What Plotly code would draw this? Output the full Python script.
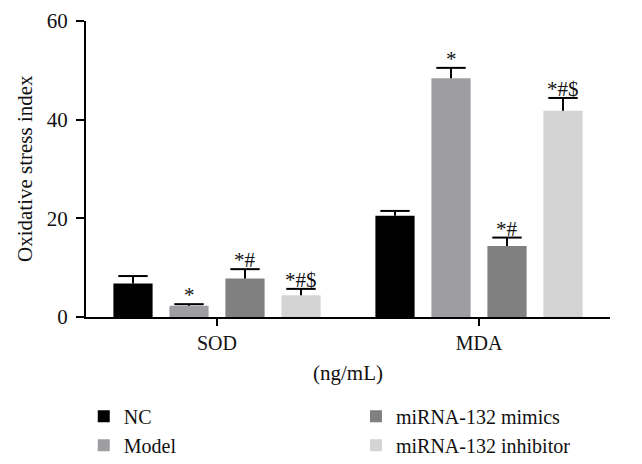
import plotly.graph_objects as go

categories = ["SOD", "MDA"]
series_names = ["NC", "Model", "miRNA-132 mimics", "miRNA-132 inhibitor"]
nc_vals = [6.8, 20.5]
nc_err = [1.5, 1.0]
model_vals = [2.3, 48.4]
model_err = [0.3, 2.1]
mimics_vals = [7.8, 14.4]
mimics_err = [1.9, 1.7]
inhib_vals = [4.4, 41.8]
inhib_err = [1.3, 2.6]
nc_marks = ["", ""]
model_marks = ["*", "*"]
mimics_marks = ["*#", "*#"]
inhib_marks = ["*#$", "*#$"]
y_title = "Oxidative stress index"
x_title = "(ng/mL)"

colors = ["#000000", "#9e9ea2", "#808080", "#d4d4d4"]
legend_ids = ["legend", "legend", "legend2", "legend2"]
vals = [nc_vals, model_vals, mimics_vals, inhib_vals]
errs = [nc_err, model_err, mimics_err, inhib_err]
marks = [nc_marks, model_marks, mimics_marks, inhib_marks]

FONT = "Liberation Serif"
GAP = 0.145
fig = go.Figure()
for i, name in enumerate(series_names):
    fig.add_trace(go.Bar(
        x=categories, y=vals[i], name=name, offsetgroup=str(i),
        marker=dict(color=colors[i], line=dict(width=0)),
        legend=legend_ids[i],
        error_y=dict(type="data", array=errs[i], arrayminus=[0] * len(errs[i]),
                     symmetric=False, color="#000000", thickness=2, width=0),
    ))
# error bar caps (top only)
for i, name in enumerate(series_names):
    fig.add_trace(go.Scatter(
        x=categories, y=[v + e for v, e in zip(vals[i], errs[i])],
        mode="markers", orientation="v", showlegend=False, hoverinfo="skip",
        offsetgroup=str(i),
        marker=dict(symbol="line-ew", size=21, color="#000",
                    line=dict(width=2, color="#000")),
    ))

slot = 56
for i in range(len(series_names)):
    for j, cat in enumerate(categories):
        if marks[i][j]:
            fig.add_annotation(x=cat, y=vals[i][j] + errs[i][j], xref="x", yref="y",
                               text=marks[i][j], showarrow=False, yanchor="bottom",
                               xshift=(i - 1.5) * slot, yshift=-5,
                               font=dict(family=FONT, size=21, color="#111"))

# y-axis title
fig.add_annotation(text=y_title, xref="paper", yref="paper", x=-0.1164, y=0.5,
                   xanchor="center", yanchor="middle", textangle=-90, showarrow=False,
                   font=dict(family=FONT, size=21, color="#111"))

leg_common = dict(orientation="v", xref="container", xanchor="left",
                  yref="container", y=0.162, yanchor="top",
                  font=dict(family=FONT, size=20), traceorder="normal", itemwidth=30)
fig.update_layout(
    width=642, height=464,
    margin=dict(l=78, r=40, t=13, b=155, autoexpand=False),
    paper_bgcolor="white", plot_bgcolor="white",
    barmode="group", bargap=GAP, bargroupgap=0.30,
    scattermode="group", scattergap=GAP,
    font=dict(family=FONT, size=20, color="#111"),
    showlegend=True,
    legend=dict(x=0.118, **leg_common),
    legend2=dict(x=0.542, **leg_common),
)
fig.update_xaxes(range=[-0.5, 1.5], showline=True, linecolor="#000", linewidth=2,
                 ticks="outside", ticklen=7, tickwidth=2, tickcolor="#000",
                 title=dict(text=x_title, standoff=12, font=dict(size=21)),
                 tickfont=dict(size=20), showgrid=False, zeroline=False, automargin=False)
fig.update_yaxes(range=[0, 60], tickvals=[0, 20, 40, 60], showline=True, linecolor="#000",
                 linewidth=2, ticks="outside", ticklen=8, tickwidth=2, tickcolor="#000",
                 ticklabelstandoff=4,
                 tickfont=dict(size=21), showgrid=False, zeroline=False, automargin=False)

fig.write_html("out.html")
